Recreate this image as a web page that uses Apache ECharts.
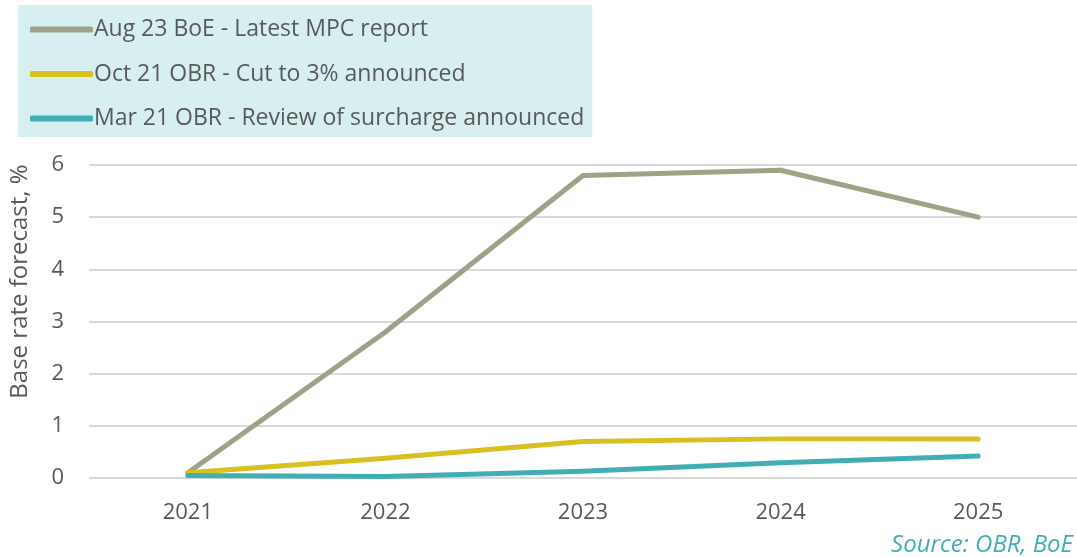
<!DOCTYPE html>
<html>
<head>
<meta charset="utf-8">
<script src="https://cdn.jsdelivr.net/npm/echarts@6/dist/echarts.min.js"></script>
<style>
html,body{margin:0;padding:0;background:#fff;}
#main{width:1077px;height:557px;}
</style>
</head>
<body>
<div id="main"></div>
<script>
// 数据
var years = ['2021', '2022', '2023', '2024', '2025'];
var seriesNames = ['Aug 23 BoE - Latest MPC report', 'Oct 21 OBR - Cut to 3% announced', 'Mar 21 OBR - Review of surcharge announced'];
var boeAug23 = [0.1, 2.8, 5.8, 5.9, 5.0];
var obrOct21 = [0.1, 0.38, 0.7, 0.75, 0.75];
var obrMar21 = [0.05, 0.03, 0.13, 0.29, 0.42];
var colors = ['#9da387', '#d8c021', '#41aeb6'];

var font = 'Open Sans';
var textColor = '#595959';

var dataList = [boeAug23, obrOct21, obrMar21];
var series = [];
for (var i = 0; i < dataList.length; i++) {
	series.push({
		name: seriesNames[i],
		type: 'line',
		data: dataList[i],
		symbol: 'none',
		lineStyle: { width: 5, color: colors[i], cap: 'round', join: 'round' },
		itemStyle: { color: colors[i] }
	});
}

var option = {
	animation: false,
	textStyle: { fontFamily: font },
	grid: { left: 89, right: -6, top: 165, bottom: 79 },
	legend: {
		orient: 'vertical',
		left: 18,
		top: 5,
		backgroundColor: '#d7eff0',
		padding: [13, 8, 7, 12],
		itemGap: 21.5,
		itemWidth: 63,
		itemHeight: 6,
		icon: 'roundRect',
		data: seriesNames,
		textStyle: { fontFamily: font, fontSize: 23, lineHeight: 23, color: textColor, padding: [0, 0, 0, -4] }
	},
	xAxis: {
		type: 'category',
		data: years,
		axisLine: { show: false },
		axisTick: { show: false },
		axisLabel: { fontFamily: font, fontSize: 22, color: textColor, margin: 24 }
	},
	yAxis: {
		type: 'value',
		min: 0,
		max: 6,
		interval: 1,
		name: 'Base rate forecast, %',
		nameLocation: 'middle',
		nameGap: 57,
		nameTextStyle: { fontFamily: font, fontSize: 24, color: textColor, padding: [0, 0, 0, 80] },
		axisLabel: { fontFamily: font, fontSize: 22, color: textColor, margin: 25 },
		splitLine: { lineStyle: { color: '#d9d9d9', width: 2 } }
	},
	graphic: [{
		type: 'text',
		style: {
			x: 1073,
			y: 545,
			text: 'Source: OBR, BoE',
			align: 'right',
			verticalAlign: 'middle',
			font: 'italic 24px "Open Sans"',
			fill: '#41aeb6'
		}
	}],
	series: series
};

var myChart = echarts.init(document.getElementById('main'));
myChart.setOption(option);
</script>
</body>
</html>
